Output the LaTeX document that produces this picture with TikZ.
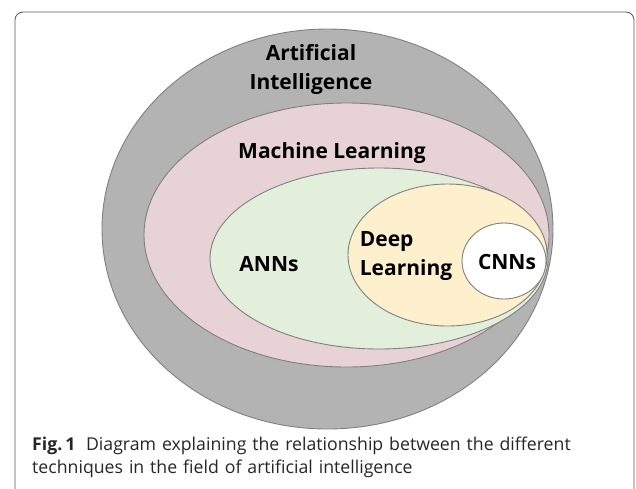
\documentclass[tikz,border=0pt]{standalone}
\usepackage{fontspec}
\setmainfont{Open Sans}
\definecolor{aigray}{HTML}{B3B3B3}
\definecolor{mlpink}{HTML}{E7D3D5}
\definecolor{anngreen}{HTML}{E2EFDA}
\definecolor{dlyellow}{HTML}{FEF0CD}
\definecolor{edgegray}{HTML}{808080}
\definecolor{boxgray}{HTML}{555555}
\tikzset{
  blob/.style={draw=edgegray, line width=0.9pt},
  lbl/.style={font=\bfseries\fontsize{21}{29}\selectfont, text=black, inner sep=0pt, align=center},
  captext/.style={font=\fontsize{17.7}{22.5}\selectfont, text=black!85, inner sep=0pt, anchor=north west, align=left, text width=600pt}
}
\begin{document}
\begin{tikzpicture}[x=1pt,y=-1pt]
\useasboundingbox (0,0) rectangle (636,488);
\draw[boxgray, line width=0.8pt, rounded corners=8pt] (15,520) -- (15,12) -- (634,12) -- (634,520);
\path[blob, fill=aigray] (327.5,229) ellipse [x radius=225.5, y radius=200];
\path[blob, fill=mlpink] (346.5,235) ellipse [x radius=202.5, y radius=132];
\path[blob, fill=anngreen] (379,258.5) ellipse [x radius=169, y radius=90.5];
\path[blob, fill=dlyellow] (447.5,255) ellipse [x radius=99.5, y radius=71];
\path[blob, fill=white] (504,261) ellipse [x radius=42, y radius=38];
\node[lbl] (ai) at (311,69) {Artificial\\Intelligence};
\node[lbl] (ml) at (332,153) {Machine Learning};
\node[lbl] (ann) at (269,264) {ANNs};
\node[lbl, align=left] (dl) at (406,256) {Deep\\Learning};
\node[lbl] (cnn) at (507,262) {CNNs};
\node[captext] (caption) at (32,437) {\textbf{Fig.\,1}\hspace{0.6em}Diagram explaining the relationship between the different\\techniques in the field of artificial intelligence};
\end{tikzpicture}
\end{document}
